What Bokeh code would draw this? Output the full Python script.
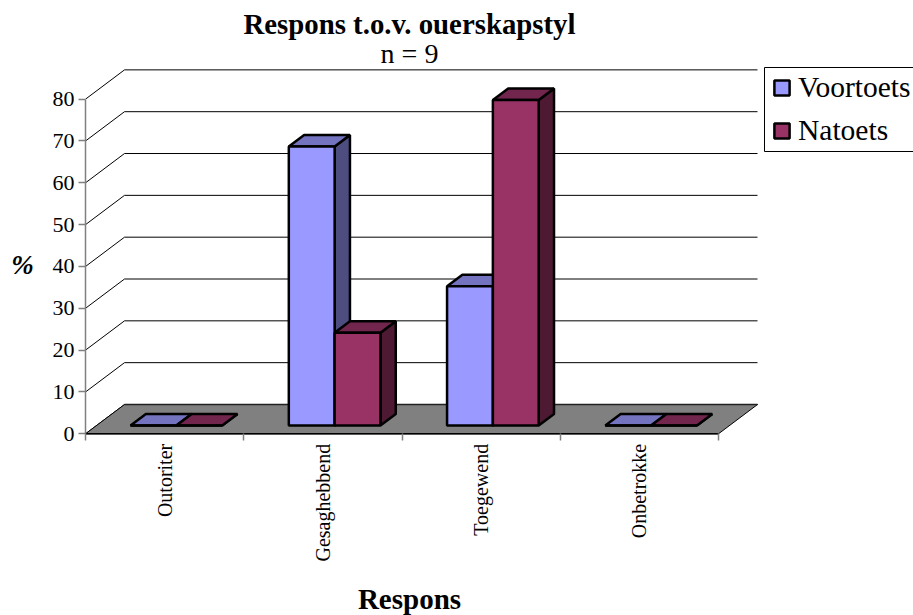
from bokeh.plotting import figure
from bokeh.models import Range1d, LinearAxis, FixedTicker, Label, Legend, LegendItem
from bokeh.embed import file_html
from bokeh.resources import INLINE

categories = ["Outoriter", "Gesaghebbend", "Toegewend", "Onbetrokke"]
voortoets = [0, 66.7, 33.3, 0]
natoets = [0, 22.2, 77.8, 0]
value_ticks = [0, 10, 20, 30, 40, 50, 60, 70, 80]

W, H = 913, 615
LEFT, BASE = 85, 433.3
PX_CAT, PX_VAL = 158.25, 4.183
SKEW_X, SKEW_Y = 39 / PX_CAT, 29.3 / PX_VAL
BAR_W, BAR_MARGIN = 0.2895, 0.215
D0, D1 = 0.283, 0.676
SERIF = "Liberation Serif"

p = figure(width=W, height=H, output_backend="svg", toolbar_location=None,
           x_axis_type=None, y_axis_type=None,
           min_border_left=0, min_border_right=0, min_border_top=0,
           min_border_bottom=0, margin=0,
           styles={"position": "absolute", "left": "0px", "top": "0px"})
p.x_range = Range1d(-LEFT / PX_CAT, (W - LEFT) / PX_CAT)
p.y_range = Range1d((BASE - H) / PX_VAL, BASE / PX_VAL)
p.grid.visible = False
p.outline_line_color = None
p.background_fill_color = "white"

def pr(x, y, d):
    return x + d * SKEW_X, y + d * SKEW_Y

def px(sx):
    return (sx - LEFT) / PX_CAT
def py(sy):
    return (BASE - sy) / PX_VAL

# walls: gridlines
n = len(categories)
xs, ys = [], []
for v in value_ticks:
    a, b, c = pr(0, v, 0), pr(0, v, 1), pr(n, v, 1)
    xs.append([a[0], b[0], c[0]])
    ys.append([a[1], b[1], c[1]])
p.multi_line(xs, ys, line_color="black", line_width=1)

# floor
corners = [pr(0, 0, 0), pr(n, 0, 0), pr(n, 0, 1), pr(0, 0, 1)]
p.patch([c[0] for c in corners], [c[1] for c in corners], fill_color="#808080", line_color="black", line_width=1)
p.line([corners[0][0], corners[1][0]], [0, 0], line_color="black", line_width=1.5)
p.line([corners[3][0], corners[2][0]], [corners[2][1]] * 2, line_color="#222222", line_width=1.5)

# bars
OUT = 2.5
styles = [("Voortoets", voortoets, "#9999FF", "#7373BF", "#4D4D80"),
          ("Natoets", natoets, "#993366", "#73264D", "#4D1933")]

# legend box behind the legend's own entries
p.quad(left=px(764), right=px(930), bottom=py(151), top=py(67), fill_color="white", line_color="black", line_width=1)

legend_items = []
for i, (name, vals, front, top, side) in enumerate(styles):
    rend = None
    for c in range(n):
        x0 = c + BAR_MARGIN + i * BAR_W
        x1 = x0 + BAR_W
        v = vals[c]
        s = [pr(x1, 0, D0), pr(x1, 0, D1), pr(x1, v, D1), pr(x1, v, D0)]
        p.patch([q[0] for q in s], [q[1] for q in s], fill_color=side, line_color="black", line_width=OUT)
        t = [pr(x0, v, D0), pr(x1, v, D0), pr(x1, v, D1), pr(x0, v, D1)]
        p.patch([q[0] for q in t], [q[1] for q in t], fill_color=top, line_color="black", line_width=OUT)
        f0, f1 = pr(x0, 0, D0), pr(x1, v, D0)
        r = p.quad(left=f0[0], right=f1[0], bottom=f0[1], top=f1[1], fill_color=front, line_color="black", line_width=OUT)
        rend = r if rend is None else rend
    legend_items.append(LegendItem(label=name, renderers=[rend]))

# axes, fixed inside the full-canvas frame
yax = LinearAxis(fixed_location=0, ticker=FixedTicker(ticks=value_ticks), bounds=(0, 80),
                 axis_line_color="#808080", axis_line_width=1.5,
                 major_tick_line_color="#808080", major_tick_line_width=1.5,
                 major_tick_in=0, major_tick_out=7, minor_tick_in=0, minor_tick_out=0,
                 major_label_standoff=4, major_label_text_font=SERIF,
                 major_label_text_font_size="22px", major_label_text_color="black")
p.add_layout(yax, "left")

centers = [c + 0.5 for c in range(n)]
xax = LinearAxis(fixed_location=0, ticker=FixedTicker(ticks=centers, minor_ticks=list(range(n + 1))), bounds=(0, n),
                 axis_line_color=None, major_tick_line_color=None,
                 major_tick_in=0, major_tick_out=0,
                 minor_tick_line_color="#808080", minor_tick_line_width=1.5, minor_tick_in=0, minor_tick_out=7,
                 major_label_overrides=dict(zip(centers, categories)),
                 major_label_orientation=1.5708, major_label_standoff=3,
                 major_label_text_font=SERIF, major_label_text_font_size="20px",
                 major_label_text_color="black")
p.add_layout(xax, "below")

def lab(text, sx, sy, size, style="normal"):
    p.add_layout(Label(x=px(sx), y=py(sy), text=text, text_font=SERIF, text_font_size=size,
                       text_font_style=style, text_align="center", text_baseline="middle", text_color="black"))

lab("Respons t.o.v. ouerskapstyl", 409, 23, "28.8px", "bold")
lab("n = 9", 409, 53, "28px")
lab("%", 22, 264, "27px", "bold italic")
lab("Respons", 409, 598, "29px", "bold")

legend = Legend(items=legend_items, location=(764, H - 155),
                border_line_color="black", border_line_alpha=0, background_fill_alpha=0,
                label_text_font=SERIF, label_text_font_size="29.5px", label_text_color="black",
                glyph_width=19, glyph_height=19, label_standoff=7, padding=8, spacing=10, margin=0)
p.add_layout(legend, "center")

open("out.html", "w").write(file_html(p, INLINE))
